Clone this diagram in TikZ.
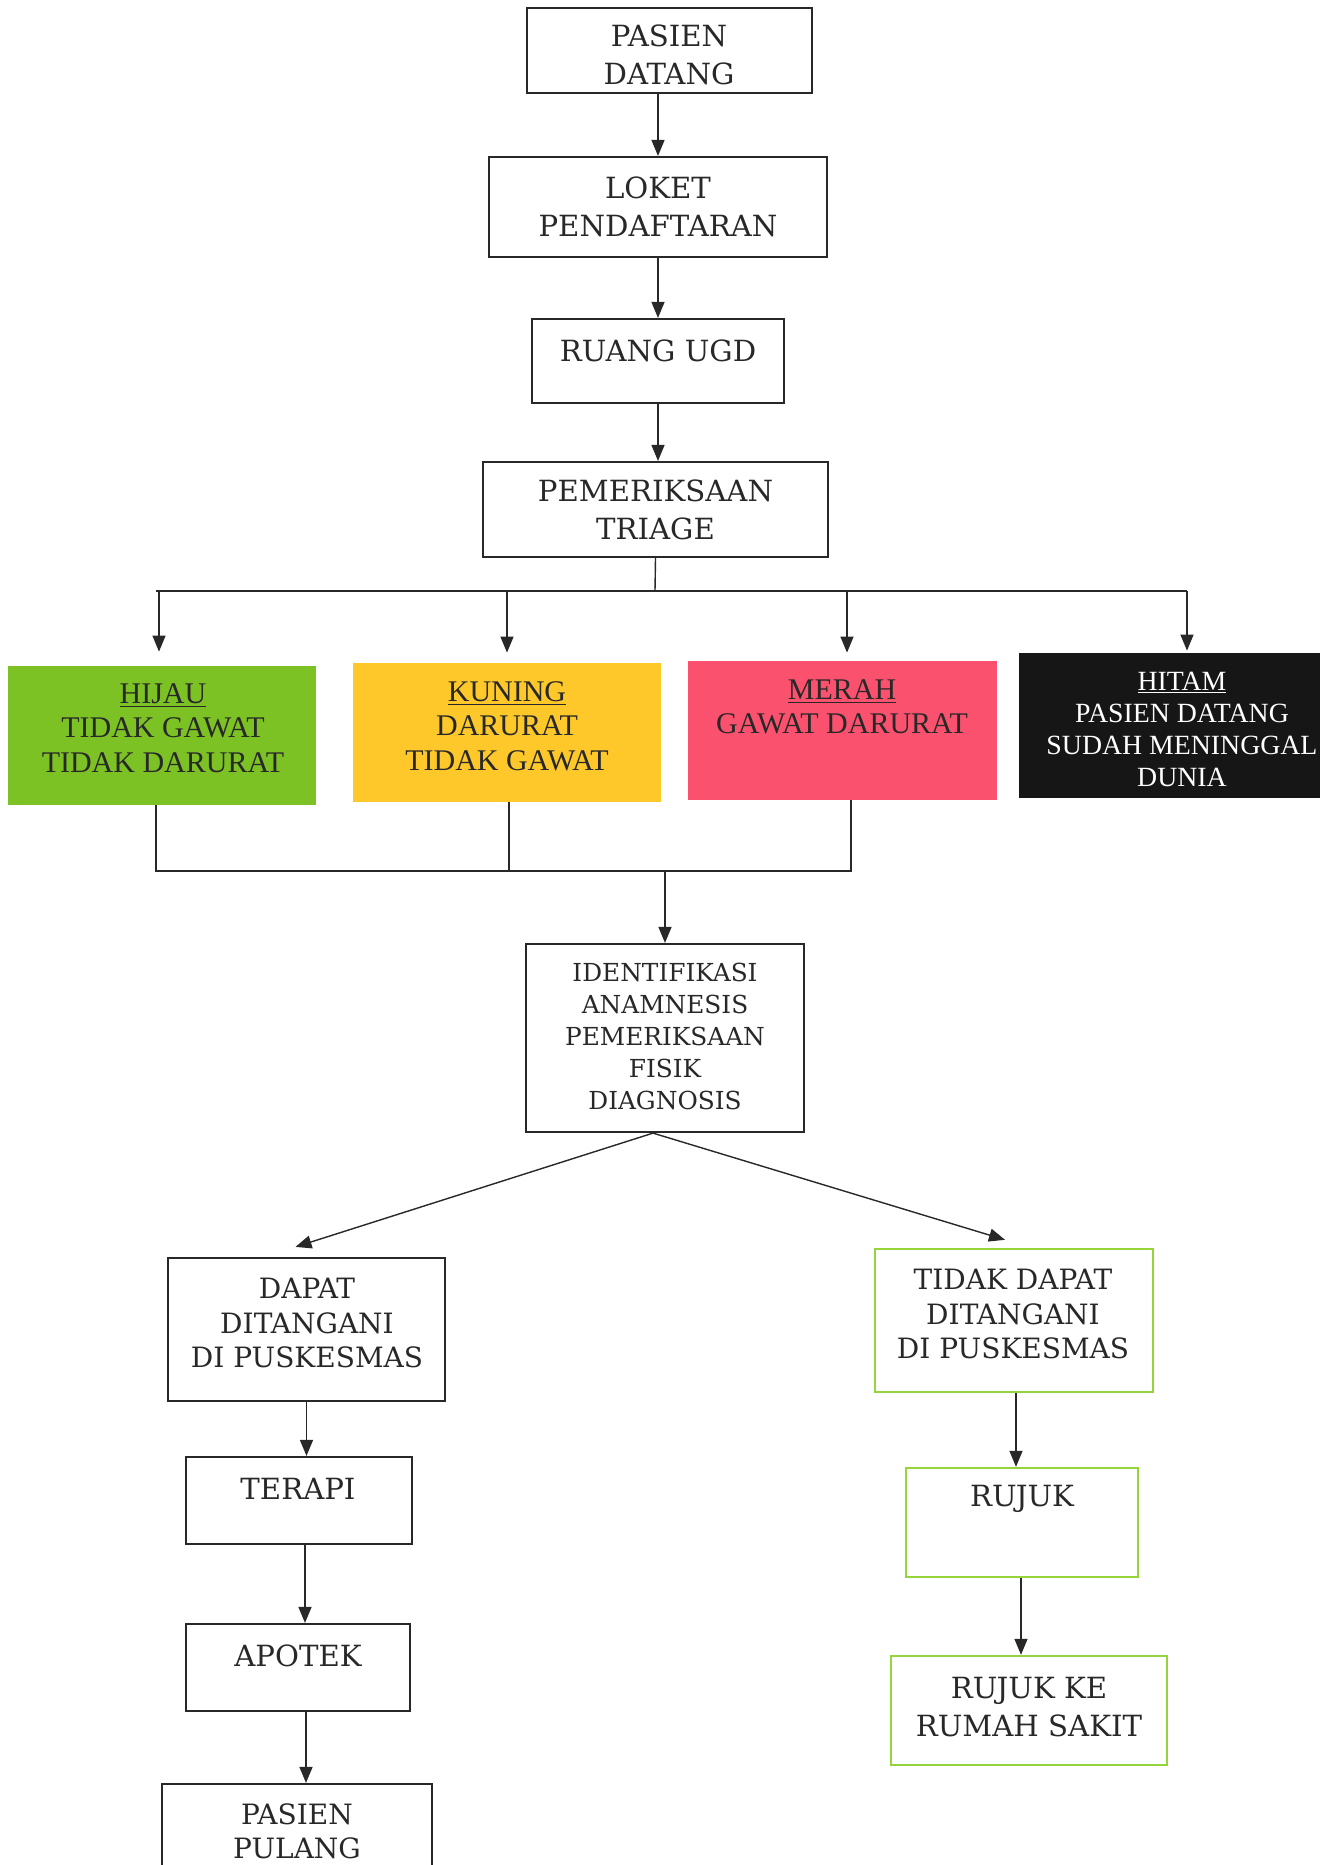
\documentclass[tikz,border=0pt]{standalone}
\usepackage{fontspec}
\newfontfamily\timesf{Liberation Serif}
\newfontfamily\boxf{DejaVu Serif}
\usetikzlibrary{arrows.meta}
\definecolor{cgreen}{RGB}{124,194,36}
\definecolor{cyellow}{RGB}{255,200,42}
\definecolor{cred}{RGB}{250,82,110}
\definecolor{cblack}{RGB}{22,22,22}
\definecolor{lgreen}{RGB}{150,212,60}
\definecolor{ink}{RGB}{40,40,40}
\begin{document}
\begin{tikzpicture}[x=0.5pt,y=-0.5pt,
  box/.style={draw=ink, line width=1.1pt, inner sep=0pt, rectangle},
  gbox/.style={draw=lgreen, line width=1.2pt, inner sep=0pt, rectangle},
  cbox/.style={inner sep=0pt, rectangle},
  txt/.style={align=center, inner sep=0pt, text=ink, font=\boxf\fontsize{14.6}{19}\selectfont},
  mtxt/.style={align=center, inner sep=0pt, text=ink, font=\boxf\fontsize{14}{17.2}\selectfont},
  stxt/.style={align=center, inner sep=0pt, text=ink, font=\boxf\fontsize{12.4}{16}\selectfont},
  ctxt/.style={align=center, inner sep=0pt, text=ink, font=\timesf\fontsize{15}{17.2}\selectfont},
  line/.style={draw=ink, line width=0.7pt},
  arr/.style={line, -{Triangle[length=8pt,width=6.5pt]}}]
\useasboundingbox (0,0) rectangle (1331,1865);
\fill[white] (0,0) rectangle (1331,1865);
\begin{scope}
\clip (0,0) rectangle (1331,1865);
% top chain
\node[box, minimum width=142.5pt, minimum height=42.5pt] (pd) at (669.5,50.5) {};
\node[txt] (pdt) at (669,55) {PASIEN\\DATANG};
\node[box, minimum width=169pt, minimum height=50pt] (lk) at (658,207) {};
\node[txt] (lkt) at (658,207) {LOKET\\PENDAFTARAN};
\node[box, minimum width=126pt, minimum height=42pt] (ugd) at (658,361) {};
\node[txt] (ugdt) at (658,351) {RUANG UGD};
\node[box, minimum width=172.5pt, minimum height=47.5pt] (tri) at (655.5,509.5) {};
\node[txt] (trit) at (655.5,510) {PEMERIKSAAN\\TRIAGE};
\draw[arr] (lk.north |- pd.south) -- (lk.north);
\draw[arr] (ugd.north |- lk.south) -- (ugd.north);
\draw[arr] (ugd.south) -- (ugd.south |- tri.north);
% triage colours
\node[cbox, fill=cgreen, minimum width=154pt, minimum height=69.5pt] (hj) at (162,735.5) {};
\node[ctxt] (hjt) at (163,728) {\underline{HIJAU}\\TIDAK GAWAT\\TIDAK DARURAT};
\node[cbox, fill=cyellow, minimum width=154pt, minimum height=69.5pt] (kn) at (507,732.5) {};
\node[ctxt] (knt) at (507,726) {\underline{KUNING}\\DARURAT\\TIDAK GAWAT};
\node[cbox, fill=cred, minimum width=154.5pt, minimum height=69.5pt] (mr) at (842.5,730.5) {};
\node[ctxt] (mrt) at (842,707) {\underline{MERAH}\\GAWAT DARURAT};
\node[cbox, fill=cblack, minimum width=150.5pt, minimum height=72.5pt] (ht) at (1169.5,725.5) {};
\node[ctxt, text=white, font=\timesf\fontsize{13.9}{16}\selectfont] (htt) at (1182,729) {\underline{HITAM}\\PASIEN DATANG\\SUDAH MENINGGAL\\DUNIA};
\coordinate (bus) at (655,591);
\coordinate (busL) at (156,591);
\coordinate (busR) at (1187,591);
\coordinate (hjin) at (159,591);
\coordinate (mrin) at (847,591);
\draw[line] (tri.south) -- (bus);
\draw[line] (busL) -- (busR);
\draw[arr, shorten >=7pt] (hjin) -- (hjin |- hj.north);
\draw[arr, shorten >=5pt] (kn.north |- bus) -- (kn.north);
\draw[arr, shorten >=4pt] (mrin) -- (mrin |- mr.north);
\draw[arr, shorten >=1pt] (busR) -- (busR |- ht.north);
% merge
\coordinate (mL) at (156,871);
\coordinate (mR) at (851,871);
\coordinate (kout) at (509,871);
\draw[line] (hj.south -| mL) -- (mL) -- (mR) -- (mr.south -| mR);
\draw[line] (kn.south -| kout) -- (kout);
% identification
\node[box, minimum width=139pt, minimum height=94pt] (id) at (665,1038) {};
\node[stxt] (idt) at (665,1036) {IDENTIFIKASI\\ANAMNESIS\\PEMERIKSAAN\\FISIK\\DIAGNOSIS};
\draw[arr] (id.north |- mL) -- (id.north);
% left branch
\node[box, minimum width=138.5pt, minimum height=71.5pt] (dp) at (306.5,1329.5) {};
\node[mtxt] (dpt) at (307,1323) {DAPAT\\DITANGANI\\DI PUSKESMAS};
\node[box, minimum width=113pt, minimum height=43.5pt] (tr) at (299,1500.5) {};
\node[txt] (trt) at (298,1489) {TERAPI};
\node[box, minimum width=112pt, minimum height=43.5pt] (ap) at (298,1667.5) {};
\node[txt] (apt) at (298,1656) {APOTEK};
\node[box, minimum width=135pt, minimum height=60pt] (pp) at (297,1844) {};
\node[mtxt] (ppt) at (297,1831) {PASIEN\\PULANG};
% right branch
\node[gbox, minimum width=139pt, minimum height=71.5pt] (tdp) at (1014,1320.5) {};
\node[mtxt] (tdpt) at (1013,1314) {TIDAK DAPAT\\DITANGANI\\DI PUSKESMAS};
\node[gbox, minimum width=116pt, minimum height=54.5pt] (rj) at (1022,1522.5) {};
\node[txt] (rjt) at (1022,1499) {RUJUK};
\node[gbox, minimum width=138pt, minimum height=54.5pt] (rk) at (1029,1710.5) {};
\node[txt] (rkt) at (1029,1707) {RUJUK KE\\RUMAH SAKIT};
% connectors
\draw[arr] ([xshift=-6pt]id.south) -- ([xshift=-5.5pt,yshift=5pt]dp.north);
\draw[arr] ([xshift=-6pt]id.south) -- ([xshift=-4.5pt,yshift=4pt]tdp.north);
\draw[arr] (dp.south) -- (dp.south |- tr.north);
\draw[arr] ([xshift=3pt]tr.south) -- ([xshift=3pt]tr.south |- ap.north);
\draw[arr] ([xshift=4pt]ap.south) -- ([xshift=4pt]ap.south |- pp.north);
\draw[arr] ([xshift=1pt]tdp.south) -- ([xshift=1pt]tdp.south |- rj.north);
\draw[arr] ([xshift=-0.5pt]rj.south) -- ([xshift=-0.5pt]rj.south |- rk.north);
\end{scope}
\end{tikzpicture}
\end{document}
